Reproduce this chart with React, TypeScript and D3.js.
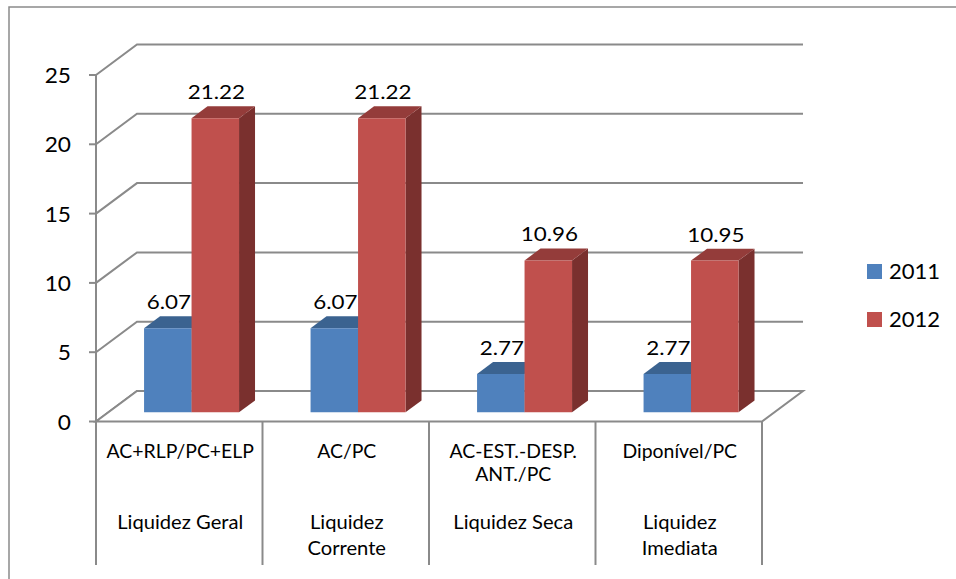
import React from "react";
import * as d3 from "d3";

const categoryLines: string[][] = [
  ["AC+RLP/PC+ELP"],
  ["AC/PC"],
  ["AC-EST.-DESP.", "ANT./PC"],
  ["Diponível/PC"],
];
const groupLines: string[][] = [
  ["Liquidez Geral"],
  ["Liquidez", "Corrente"],
  ["Liquidez Seca"],
  ["Liquidez", "Imediata"],
];
const seriesNames = ["2011", "2012"];
const values2011 = [6.07, 6.07, 2.77, 2.77];
const values2012 = [21.22, 21.22, 10.96, 10.95];
const yTicks = [0, 5, 10, 15, 20, 25];

const W = 956;
const H = 579;
const DX = 41;
const DY = -30.5;
const D0 = 0.3;
const D1 = 0.69;
const FONT = "Lato, 'Open Sans', sans-serif";
const GRID = "#8a8a8a";

const colors = [
  { front: "#4F81BD", top: "#3B6390", side: "#385D8A" },
  { front: "#C0504D", top: "#943C3A", side: "#7A302E" },
];

function T(props: {
  x: number;
  y: number;
  sx: number;
  size: number;
  anchor?: string;
  children: React.ReactNode;
}) {
  return (
    <text
      transform={`translate(${props.x},${props.y}) scale(${props.sx},1)`}
      textAnchor={props.anchor || "middle"}
      fontSize={props.size}
      fontFamily={FONT}
      fill="#000"
    >
      {props.children}
    </text>
  );
}

export default function App() {
  const idx = categoryLines.map((_, i) => String(i));
  const x = d3.scaleBand<string>().domain(idx).range([96, 762]).padding(0);
  const xs = d3
    .scaleBand<string>()
    .domain(seriesNames)
    .range([0, x.bandwidth()])
    .paddingInner(0)
    .paddingOuter(0.753);
  const y = d3.scaleLinear().domain([0, 25]).range([421.5, 75]);
  const series = [values2011, values2012];

  const P = (xf: number, v: number, d: number): [number, number] => [
    xf + d * DX,
    y(v) + d * DY,
  ];
  const poly = (pts: [number, number][]) =>
    "M" + pts.map((p) => p[0].toFixed(2) + "," + p[1].toFixed(2)).join("L") + "Z";

  const x0 = 96;
  const x1 = 762;

  const bars: JSX.Element[] = [];
  const labels: JSX.Element[] = [];
  idx.forEach((c, ci) => {
    seriesNames.forEach((s, si) => {
      const v = series[si][ci];
      const bx0 = (x(c) as number) + (xs(s) as number);
      const bx1 = bx0 + xs.bandwidth();
      const col = colors[si];
      bars.push(
        <g key={`b${ci}-${si}`}>
          <path
            d={poly([P(bx1, 0, D0), P(bx1, v, D0), P(bx1, v, D1), P(bx1, 0, D1)])}
            fill={col.side}
          />
          <path
            d={poly([P(bx0, v, D0), P(bx1, v, D0), P(bx1, v, D1), P(bx0, v, D1)])}
            fill={col.top}
          />
          <path
            d={poly([P(bx0, 0, D0), P(bx1, 0, D0), P(bx1, v, D0), P(bx0, v, D0)])}
            fill={col.front}
          />
        </g>
      );
      const [lx, ly] = P((bx0 + bx1) / 2 + 1, v, D0);
      labels.push(
        <T key={`l${ci}-${si}`} x={lx} y={ly - 19} sx={1.12} size={20}>
          {v.toFixed(2)}
        </T>
      );
    });
  });

  return (
    <svg
      width={W}
      height={H}
      style={{ position: "absolute", left: 0, top: 0, background: "#fff" }}
    >
      <rect x={0} y={0} width={W} height={H} fill="#fff" />
      <path d={`M9,${H}V7H${W}`} fill="none" stroke={GRID} strokeWidth={1.5} />

      {yTicks.map((t) => {
        const [fx, fy] = P(x0, t, 0);
        const [bx, by] = P(x0, t, 1);
        const [ex, ey] = P(x1, t, 1);
        return (
          <g key={`g${t}`}>
            <path
              d={`M${fx},${fy}L${bx},${by}L${ex},${ey}`}
              fill="none"
              stroke={GRID}
              strokeWidth={2}
            />
            <line x1={89} x2={x0} y1={fy} y2={fy} stroke={GRID} strokeWidth={2} />
            <T x={71} y={fy + 8} sx={1.08} size={21} anchor="end">
              {t}
            </T>
          </g>
        );
      })}
      <path
        d={poly([P(x0, 0, 0), P(x1, 0, 0), P(x1, 0, 1), P(x0, 0, 1)])}
        fill="#fff"
        stroke={GRID}
        strokeWidth={2}
      />
      <line x1={x0} x2={x0} y1={y(25)} y2={y(0)} stroke={GRID} strokeWidth={2} />

      {bars}
      {labels}

      {[...idx.map((c) => x(c) as number), x1].map((sx, i) => (
        <line key={`s${i}`} x1={sx} x2={sx} y1={y(0)} y2={565} stroke={GRID} strokeWidth={2} />
      ))}

      {idx.map((c, ci) => {
        const cx = (x(c) as number) + x.bandwidth() / 2 + 1;
        return (
          <g key={`c${ci}`}>
            {categoryLines[ci].map((ln, li) => (
              <T key={`a${li}`} x={cx} y={458 + li * 23} sx={1.05} size={18.5}>
                {ln}
              </T>
            ))}
            {groupLines[ci].map((ln, li) => (
              <T key={`g${li}`} x={cx} y={529 + li * 26} sx={1.09} size={18.5}>
                {ln}
              </T>
            ))}
          </g>
        );
      })}

      {seriesNames.map((s, si) => (
        <g key={`lg${si}`}>
          <rect x={867} y={264 + si * 48} width={15} height={15} fill={colors[si].front} />
          <T x={889} y={279 + si * 48} sx={1.05} size={21} anchor="start">
            {s}
          </T>
        </g>
      ))}
    </svg>
  );
}
